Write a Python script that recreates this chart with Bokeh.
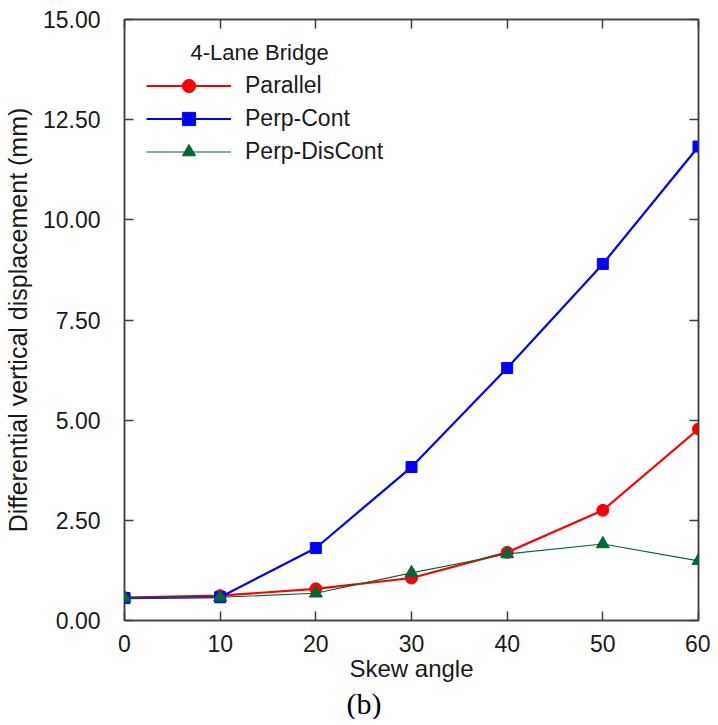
from bokeh.plotting import figure
from bokeh.models import (ColumnDataSource, Range1d, LinearAxis, FixedTicker,
                          NumeralTickFormatter, CustomJSTickFormatter, Legend,
                          LegendItem, Label, Title)
from bokeh.embed import file_html
from bokeh.resources import INLINE

# ---- data ----
skew = [0, 10, 20, 30, 40, 50, 60]
parallel = [0.57, 0.62, 0.79, 1.06, 1.70, 2.75, 4.78]
perp_cont = [0.56, 0.58, 1.81, 3.83, 6.30, 8.90, 11.83]
perp_discont = [0.56, 0.58, 0.68, 1.19, 1.66, 1.91, 1.49]
series_names = ["Parallel", "Perp-Cont", "Perp-DisCont"]
legend_title = "4-Lane Bridge"
x_label = "Skew angle"
y_label = "Differential vertical displacement (mm)"
sub_caption = "(b)"
x_ticks = [0, 10, 20, 30, 40, 50, 60]
y_ticks = [0, 2.5, 5, 7.5, 10, 12.5, 15]

FONT = "Liberation Sans"
AX = "#404040"
TXT = "#1a1a1a"

p = figure(frame_width=574, frame_height=601, output_backend="svg",
           toolbar_location=None,
           x_range=Range1d(0, 60), y_range=Range1d(0, 15),
           min_border_left=116, min_border_top=19, min_border_right=12,
           min_border_bottom=60)
p.background_fill_color = "white"
p.border_fill_color = "white"
p.outline_line_color = AX
p.outline_line_width = 1.5
p.xgrid.visible = False
p.ygrid.visible = False

src = ColumnDataSource(dict(x=skew, a=parallel, b=perp_cont, c=perp_discont))

l1 = p.line("x", "a", source=src, line_color="#FF0000", line_width=2.2)
m1 = p.scatter("x", "a", source=src, marker="circle", size=12,
               fill_color="#FF0000", line_color="#FF0000")
l2 = p.line("x", "b", source=src, line_color="#0000FF", line_width=2.2)
m2 = p.scatter("x", "b", source=src, marker="square", size=11,
               fill_color="#0000FF", line_color="#0000FF")
l3 = p.line("x", "c", source=src, line_color="#006837", line_width=1.2)
m3 = p.scatter("x", "c", source=src, marker="triangle", size=13,
               fill_color="#006837", line_color="#006837")

def style_axis(ax, show_labels, ticks):
    ax.ticker = FixedTicker(ticks=ticks)
    ax.axis_line_color = AX
    ax.axis_line_width = 1.5
    ax.major_tick_line_color = AX
    ax.major_tick_line_width = 1.5
    ax.major_tick_in = 9
    ax.major_tick_out = 0
    ax.minor_tick_line_color = None
    ax.major_label_text_font = FONT
    ax.major_label_text_font_size = "23px"
    ax.major_label_text_color = TXT
    ax.axis_label_text_font = FONT
    ax.axis_label_text_font_style = "normal"
    ax.axis_label_text_color = TXT
    if not show_labels:
        ax.formatter = CustomJSTickFormatter(code="return ''")
        ax.major_label_text_font_size = "0px"
        ax.major_label_standoff = 0

xa = p.xaxis[0]
style_axis(xa, True, x_ticks)
xa.axis_label = x_label
xa.axis_label_text_font_size = "24px"
xa.major_label_standoff = 14
xa.axis_label_standoff = 0

ya = p.yaxis[0]
style_axis(ya, True, y_ticks)
ya.formatter = NumeralTickFormatter(format="0.00")
ya.axis_label = y_label
ya.axis_label_text_font_size = "25px"
ya.major_label_standoff = 24
ya.axis_label_standoff = 8

top = LinearAxis()
style_axis(top, False, x_ticks)
p.add_layout(top, "above")
right = LinearAxis()
style_axis(right, False, y_ticks)
p.add_layout(right, "right")

legend = Legend(items=[LegendItem(label=series_names[0], renderers=[l1, m1]),
                       LegendItem(label=series_names[1], renderers=[l2, m2]),
                       LegendItem(label=series_names[2], renderers=[l3, m3])],
                location=(22, 452))
legend.border_line_color = None
legend.background_fill_alpha = 0
legend.padding = 0
legend.margin = 0
legend.spacing = 0
legend.glyph_width = 85
legend.glyph_height = 33
legend.label_height = 33
legend.label_standoff = 14
legend.label_text_font = FONT
legend.label_text_font_size = "23px"
legend.label_text_color = TXT
p.add_layout(legend, "center")

p.add_layout(Label(x=66, y=568, x_units="screen", y_units="screen",
                   text=legend_title, text_font=FONT, text_font_size="22px",
                   text_color=TXT, text_baseline="middle"))

cap = Title(text=sub_caption, align="left", offset=222,
            text_font="Liberation Serif", text_font_size="30px",
            text_font_style="normal", text_color="#000000", standoff=0)
p.add_layout(cap, "below")

open("out.html", "w").write(file_html(p, INLINE))
